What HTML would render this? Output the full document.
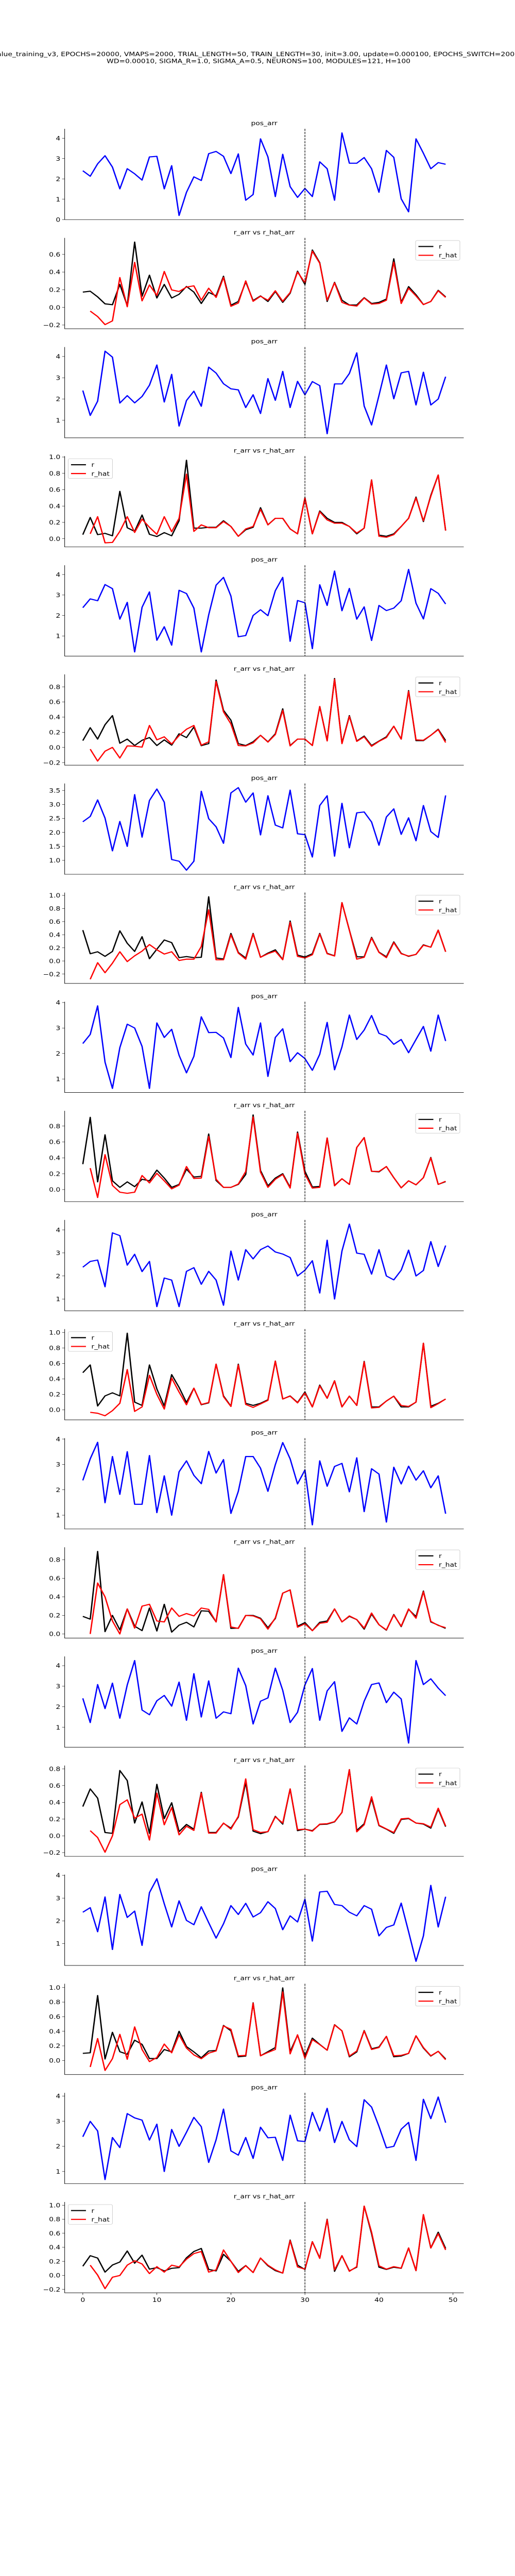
<!DOCTYPE html>
<html><head><meta charset="utf-8"><style>
html,body{margin:0;padding:0;background:#fff;width:100%;height:100%;overflow:hidden;}
svg{display:block;position:absolute;left:0;top:0;width:100%;height:100%;font-family:"DejaVu Sans","Liberation Sans",sans-serif;}
</style></head>
<body>
<svg id="fig" viewBox="0 0 1000 6000" preserveAspectRatio="none" overflow="hidden" xmlns="http://www.w3.org/2000/svg">
<rect width="1000" height="6000" fill="#fff"/>
<text x="-6" y="131" font-size="13.9" textLength="1014" lengthAdjust="spacingAndGlyphs">alue_training_v3, EPOCHS=20000, VMAPS=2000, TRIAL_LENGTH=50, TRAIN_LENGTH=30, init=3.00, update=0.000100, EPOCHS_SWITCH=2000</text>
<text x="207" y="147" font-size="13.9" textLength="590" lengthAdjust="spacingAndGlyphs">WD=0.00010, SIGMA_R=1.0, SIGMA_A=0.5, NEURONS=100, MODULES=121, H=100</text>
<g id="plots"></g>
</svg>
<script>
const pos0=[2.4,2.13,2.74,3.14,2.58,1.51,2.5,2.25,1.94,3.08,3.11,1.51,2.65,0.2,1.34,2.1,1.92,3.24,3.35,3.11,2.26,3.23,0.95,1.23,3.97,3.08,1.13,3.21,1.62,1.09,1.53,1.13,2.84,2.5,0.95,4.26,2.77,2.77,3.05,2.5,1.34,3.4,3.06,1.02,0.38,3.97,3.26,2.5,2.8,2.72];
const r0=[0.173,0.183,0.119,0.04,0.03,0.26,0.02,0.74,0.126,0.365,0.106,0.26,0.106,0.148,0.237,0.173,0.044,0.17,0.13,0.353,0.025,0.067,0.29,0.077,0.13,0.067,0.18,0.057,0.16,0.41,0.26,0.65,0.506,0.067,0.284,0.081,0.027,0.027,0.11,0.044,0.057,0.094,0.55,0.057,0.235,0.143,0.032,0.067,0.193,0.119];
const rh0=[null,-0.042,-0.104,-0.195,-0.153,0.338,0.007,0.51,0.074,0.254,0.136,0.407,0.198,0.18,0.23,0.244,0.081,0.217,0.113,0.34,0.012,0.049,0.3,0.069,0.126,0.081,0.188,0.069,0.168,0.4,0.279,0.637,0.5,0.081,0.279,0.057,0.025,0.015,0.106,0.037,0.044,0.081,0.513,0.044,0.217,0.13,0.032,0.067,0.188,0.113];
const pos1=[2.4,1.23,1.9,4.25,3.97,1.81,2.16,1.82,2.12,2.65,3.6,1.86,3.16,0.73,1.93,2.37,1.66,3.5,3.22,2.72,2.48,2.43,1.6,2.2,1.32,2.96,1.94,3.3,1.6,2.83,2.2,2.82,2.63,0.37,2.71,2.71,3.2,4.17,1.67,0.78,2.17,3.6,2.01,3.23,3.3,1.72,3.26,1.72,2.0,3.05];
const r1=[0.05,0.26,0.05,0.066,0.036,0.58,0.135,0.09,0.29,0.054,0.027,0.075,0.036,0.22,0.96,0.13,0.13,0.14,0.14,0.22,0.15,0.03,0.11,0.14,0.38,0.17,0.25,0.25,0.12,0.06,0.5,0.06,0.34,0.25,0.2,0.2,0.15,0.06,0.13,0.72,0.045,0.03,0.06,0.15,0.25,0.51,0.21,0.53,0.78,0.1];
const rh1=[null,0.06,0.27,-0.05,-0.045,0.09,0.27,0.077,0.24,0.14,0.054,0.27,0.086,0.25,0.79,0.09,0.17,0.135,0.135,0.21,0.15,0.03,0.12,0.15,0.36,0.17,0.25,0.25,0.12,0.06,0.5,0.06,0.33,0.23,0.19,0.19,0.15,0.07,0.13,0.72,0.03,0.018,0.05,0.15,0.25,0.5,0.22,0.52,0.78,0.1];
const pos2=[2.38,2.81,2.72,3.51,3.31,1.82,2.64,0.22,2.4,3.15,0.79,1.45,0.55,3.23,3.07,2.36,0.22,2.03,3.48,3.86,2.95,0.96,1.02,2.0,2.28,1.99,3.21,3.86,0.74,2.73,2.62,0.38,3.5,2.49,4.17,2.23,3.32,1.82,2.42,0.78,2.49,2.24,2.36,2.72,4.25,2.6,1.83,3.31,3.08,2.56];
const r2=[0.09,0.26,0.11,0.3,0.42,0.055,0.11,0.025,0.094,0.13,0.025,0.1,0.03,0.18,0.13,0.27,0.023,0.05,0.89,0.49,0.36,0.05,0.025,0.074,0.16,0.074,0.18,0.51,0.025,0.11,0.11,0.025,0.54,0.09,0.91,0.055,0.42,0.084,0.15,0.025,0.084,0.14,0.28,0.11,0.75,0.09,0.09,0.16,0.24,0.09];
const rh2=[null,-0.023,-0.18,-0.05,0.0,-0.14,0.02,0.016,0.004,0.29,0.1,0.14,0.045,0.156,0.24,0.29,0.03,0.074,0.87,0.47,0.31,0.025,0.02,0.06,0.16,0.07,0.17,0.49,0.02,0.11,0.11,0.025,0.54,0.085,0.9,0.05,0.41,0.08,0.14,0.015,0.08,0.13,0.28,0.11,0.74,0.1,0.095,0.16,0.235,0.065];
const pos3=[2.38,2.57,3.16,2.51,1.34,2.39,1.5,3.35,1.83,3.14,3.55,3.08,1.03,0.97,0.65,0.97,3.47,2.49,2.2,1.61,3.41,3.6,3.08,3.41,1.91,3.31,2.26,2.16,3.51,1.95,1.92,1.12,2.96,3.31,1.15,3.04,1.45,2.7,2.73,2.37,1.54,2.55,2.84,1.93,2.52,1.7,2.96,2.03,1.82,3.32];
const r3=[0.47,0.11,0.14,0.07,0.145,0.46,0.27,0.145,0.37,0.034,0.18,0.32,0.28,0.05,0.067,0.05,0.056,0.98,0.045,0.03,0.42,0.13,0.045,0.42,0.056,0.12,0.17,0.022,0.61,0.09,0.06,0.11,0.42,0.116,0.078,0.89,0.47,0.063,0.063,0.36,0.134,0.063,0.29,0.116,0.07,0.1,0.246,0.21,0.47,0.14];
const rh3=[null,-0.28,-0.027,-0.18,-0.034,0.14,-0.01,0.078,0.15,0.25,0.17,0.105,0.14,0.007,0.027,0.027,0.22,0.78,0.018,0.018,0.4,0.12,0.027,0.41,0.056,0.11,0.15,0.018,0.59,0.07,0.045,0.094,0.41,0.11,0.075,0.89,0.47,0.027,0.056,0.35,0.13,0.05,0.28,0.11,0.075,0.1,0.24,0.21,0.47,0.14];
const pos4=[2.39,2.75,3.87,1.66,0.63,2.23,3.15,3.0,2.28,0.63,3.2,2.63,2.95,1.93,1.24,1.89,3.44,2.82,2.83,2.61,1.84,3.81,2.37,1.94,3.2,1.1,2.63,2.97,1.68,2.03,1.8,1.34,1.97,3.22,1.36,2.26,3.51,2.55,2.92,3.49,2.79,2.68,2.36,2.55,2.03,2.55,3.06,2.09,3.51,2.49];
const r4=[0.32,0.91,0.097,0.69,0.11,0.028,0.097,0.037,0.13,0.11,0.245,0.145,0.028,0.065,0.257,0.158,0.167,0.7,0.115,0.028,0.028,0.065,0.19,0.94,0.24,0.047,0.145,0.2,0.028,0.725,0.23,0.033,0.04,0.65,0.052,0.136,0.065,0.53,0.655,0.23,0.223,0.29,0.15,0.022,0.11,0.06,0.15,0.405,0.065,0.1];
const rh4=[null,0.27,-0.1,0.44,0.052,-0.033,-0.047,-0.033,0.177,0.084,0.205,0.11,0.009,0.056,0.29,0.14,0.145,0.67,0.13,0.028,0.028,0.07,0.227,0.915,0.22,0.028,0.13,0.19,0.019,0.71,0.195,0.019,0.028,0.65,0.047,0.136,0.065,0.53,0.655,0.23,0.228,0.29,0.15,0.022,0.11,0.06,0.15,0.4,0.065,0.105];
const pos5=[2.38,2.63,2.69,1.53,3.87,3.75,2.47,2.94,2.19,2.63,0.67,1.91,1.82,0.67,2.2,2.36,1.64,2.2,1.82,0.73,3.08,1.82,3.14,2.74,3.14,3.3,3.04,2.95,2.8,2.0,2.25,2.66,1.26,3.55,1.0,3.08,4.25,2.99,2.94,2.08,3.14,2.0,1.83,2.25,3.12,2.0,2.24,3.49,2.41,3.32];
const r5=[0.48,0.58,0.05,0.18,0.22,0.18,0.99,0.1,0.057,0.58,0.27,0.05,0.455,0.29,0.095,0.28,0.066,0.09,0.59,0.18,0.047,0.59,0.085,0.057,0.085,0.13,0.63,0.14,0.18,0.095,0.23,0.038,0.32,0.15,0.375,0.038,0.177,0.057,0.626,0.038,0.038,0.114,0.177,0.038,0.038,0.1,0.86,0.047,0.085,0.14];
const rh5=[null,-0.032,-0.044,-0.076,-0.01,0.085,0.52,-0.02,0.038,0.446,0.2,0.01,0.41,0.23,0.066,0.28,0.07,0.095,0.59,0.17,0.044,0.58,0.07,0.032,0.076,0.123,0.63,0.14,0.177,0.09,0.22,0.038,0.31,0.15,0.375,0.038,0.177,0.057,0.62,0.025,0.032,0.114,0.177,0.057,0.044,0.1,0.86,0.028,0.08,0.14];
const pos6=[2.37,3.22,3.87,1.49,3.31,1.82,3.5,1.43,1.43,3.35,1.1,2.55,1.0,2.71,3.14,2.57,2.24,3.51,2.66,3.19,1.07,1.94,3.31,3.31,2.85,1.94,2.99,3.86,3.22,2.23,2.78,0.62,3.14,2.14,2.92,3.04,1.92,3.26,1.14,2.83,2.62,0.73,2.89,2.23,2.93,2.38,2.75,2.08,2.55,1.06];
const r6=[0.19,0.16,0.89,0.025,0.2,0.044,0.27,0.084,0.036,0.28,0.032,0.32,0.02,0.095,0.126,0.076,0.25,0.245,0.13,0.64,0.06,0.063,0.2,0.2,0.17,0.068,0.167,0.44,0.475,0.084,0.123,0.036,0.126,0.14,0.27,0.13,0.19,0.155,0.052,0.215,0.1,0.041,0.21,0.079,0.265,0.187,0.463,0.13,0.095,0.06];
const rh6=[null,0.0,0.55,0.4,0.14,0.0,0.27,0.063,0.3,0.32,0.14,0.13,0.28,0.19,0.22,0.195,0.28,0.265,0.13,0.64,0.076,0.06,0.2,0.195,0.163,0.052,0.174,0.44,0.475,0.073,0.11,0.036,0.115,0.126,0.27,0.13,0.195,0.155,0.063,0.226,0.1,0.044,0.205,0.084,0.27,0.17,0.455,0.136,0.092,0.068];
const pos7=[2.41,1.23,3.08,1.91,3.15,1.44,3.06,4.25,1.84,1.61,2.29,2.55,2.03,3.2,1.34,3.61,1.5,3.26,1.44,1.75,1.66,3.88,3.03,1.16,2.27,2.43,3.88,2.8,1.23,1.73,3.06,3.86,1.34,2.77,3.22,0.8,1.46,1.16,2.27,3.08,3.16,2.2,2.71,2.38,0.23,4.25,3.08,3.36,2.91,2.54];
const r7=[0.35,0.56,0.45,0.04,0.03,0.78,0.66,0.153,0.405,0.03,0.615,0.206,0.395,0.05,0.136,0.08,0.52,0.04,0.04,0.15,0.092,0.224,0.64,0.056,0.026,0.05,0.233,0.14,0.56,0.062,0.08,0.062,0.136,0.14,0.167,0.28,0.79,0.065,0.145,0.444,0.122,0.08,0.03,0.196,0.206,0.153,0.14,0.092,0.32,0.11];
const rh7=[null,0.062,-0.02,-0.195,0.0,0.373,0.43,0.21,0.26,-0.05,0.51,0.132,0.338,0.012,0.115,0.065,0.51,0.033,0.033,0.153,0.08,0.233,0.68,0.074,0.04,0.05,0.227,0.153,0.56,0.074,0.08,0.056,0.14,0.145,0.17,0.28,0.79,0.048,0.132,0.467,0.127,0.083,0.04,0.203,0.21,0.153,0.145,0.104,0.33,0.118];
const pos8=[2.38,2.58,1.52,3.05,0.74,3.16,2.15,2.43,0.92,3.24,3.85,2.75,1.73,2.88,2.02,1.83,2.62,1.92,1.24,1.87,2.67,2.28,2.77,2.17,2.36,2.84,2.54,1.61,2.22,1.95,2.95,1.11,3.27,3.3,2.72,2.67,2.38,2.22,2.67,2.51,1.34,1.71,1.82,2.78,1.52,0.22,1.34,3.56,1.73,3.06];
const r8=[0.097,0.105,0.89,0.02,0.386,0.12,0.085,0.278,0.22,0.026,0.026,0.15,0.117,0.4,0.19,0.117,0.036,0.13,0.137,0.48,0.406,0.05,0.06,0.79,0.064,0.12,0.177,0.995,0.12,0.346,0.06,0.306,0.22,0.14,0.49,0.406,0.05,0.117,0.41,0.16,0.185,0.33,0.05,0.06,0.097,0.338,0.17,0.06,0.125,0.02];
const rh8=[null,-0.09,0.3,-0.137,0.024,0.358,0.016,0.46,0.15,-0.016,0.04,0.225,0.105,0.352,0.17,0.076,0.024,0.1,0.13,0.473,0.427,0.064,0.07,0.785,0.064,0.11,0.15,0.94,0.09,0.352,0.03,0.285,0.217,0.14,0.487,0.406,0.06,0.13,0.406,0.15,0.177,0.33,0.064,0.07,0.097,0.338,0.177,0.064,0.125,0.01];
const pos9=[2.38,2.99,2.61,0.68,2.35,1.95,3.3,3.13,3.04,2.25,2.88,1.0,2.67,2.0,2.56,3.15,2.78,1.36,2.26,3.48,1.82,1.65,2.35,1.52,2.76,2.34,2.36,1.44,3.24,2.22,2.19,3.35,2.61,3.51,2.15,2.99,2.26,1.99,3.85,3.56,2.79,1.94,2.0,2.68,2.95,1.44,3.87,3.1,3.96,2.94];
const r9=[0.13,0.28,0.246,0.046,0.147,0.19,0.347,0.173,0.288,0.088,0.11,0.063,0.1,0.11,0.25,0.34,0.383,0.084,0.063,0.3,0.2,0.057,0.14,0.04,0.246,0.137,0.067,0.032,0.503,0.145,0.084,0.48,0.246,0.8,0.057,0.28,0.063,0.116,0.987,0.594,0.116,0.084,0.116,0.1,0.39,0.067,0.86,0.39,0.615,0.383];
const rh9=[null,0.145,0.004,-0.19,-0.027,-0.002,0.145,0.208,0.162,0.025,0.124,0.046,0.145,0.12,0.23,0.31,0.34,0.046,0.078,0.362,0.2,0.04,0.137,0.04,0.246,0.145,0.078,0.032,0.495,0.12,0.088,0.48,0.242,0.794,0.078,0.28,0.057,0.124,0.987,0.615,0.137,0.088,0.124,0.103,0.39,0.067,0.867,0.39,0.594,0.362];
const legendSides=['right','left','right','right','right','left','right','right','right','left'];
const xTickValues=[0,10,20,30,40,50];
const trainSplit=30;
const posSeries=[pos0,pos1,pos2,pos3,pos4,pos5,pos6,pos7,pos8,pos9];
const rSeries=[r0,r1,r2,r3,r4,r5,r6,r7,r8,r9];
const rhSeries=[rh0,rh1,rh2,rh3,rh4,rh5,rh6,rh7,rh8,rh9];

const NS='http://www.w3.org/2000/svg';
const root=document.getElementById('plots');
const AX_L=125.6, AX_R=900.5, AX_H=211.5, TOP0=300, PITCH=254.15, FS=13.9;
function mk(tag,attrs,parent){const e=document.createElementNS(NS,tag);for(const k in attrs)e.setAttribute(k,attrs[k]);(parent||root).appendChild(e);return e;}
function niceTicks(lo,hi){
  const raw=(hi-lo)/7;const mag=Math.pow(10,Math.floor(Math.log10(raw)));
  let step=10*mag;for(const s of [1,2,2.5,5,10]){if(s*mag>=raw-1e-12){step=s*mag;break;}}
  const t=[];for(let v=Math.ceil(lo/step-1e-9)*step;v<=hi+1e-9;v+=step)t.push(Math.round(v/step)*step);
  let dec=Math.max(0,-Math.floor(Math.log10(step)+1e-9));if(Math.abs(step/Math.pow(10,-dec)-2.5)<1e-6)dec++;
  return {t,dec};
}
function fmt(v,dec){let s=Math.abs(v).toFixed(dec);if(v<-1e-9)s='\u2212'+s;return s;}
const N=50, xmin=-0.05*(N-1), xmax=(N-1)*1.05;
function xs(i){return AX_L+(i-xmin)/(xmax-xmin)*(AX_R-AX_L);}

function drawAxes(idx,top,title,series,legendSide,isLast){
  const g=mk('g',{});
  
  
  let all=[];series.forEach(s=>s.data.forEach(v=>{if(v!==null)all.push(v);}));
  const dmin=Math.min(...all),dmax=Math.max(...all),pad=0.05*(dmax-dmin);
  const ylo=dmin-pad,yhi=dmax+pad;
  const ys=v=>top+(yhi-v)/(yhi-ylo)*AX_H;
  const bot=top+AX_H;
  const tt=mk('text',{x:(AX_L+AX_R)/2,y:top-8.3,'font-size':FS,'text-anchor':'middle'},g);
  tt.textContent=title;
  
  
  const {t,dec}=niceTicks(ylo,yhi);
  t.forEach(v=>{
    const y=ys(v);
    const tk=mk('line',{x1:AX_L-4.9,x2:AX_L,y1:y,y2:y,stroke:'#000','stroke-width':0.8},g);
    
    
    const lb=mk('text',{x:AX_L-8.4,y:y+5,'font-size':FS,'text-anchor':'end'},g);
    lb.textContent=fmt(v,dec);
    
    
  });
  series.forEach(s=>{
    let d='';let pen=false;
    s.data.forEach((v,i)=>{if(v===null){pen=false;return;}d+=(pen?'L':'M')+xs(i).toFixed(2)+' '+ys(v).toFixed(2);pen=true;});
    const p=mk('path',{d:d,fill:'none',stroke:s.color,'stroke-width':2.6,'stroke-linejoin':'round'},g);
    
    
  });
  const vl=mk('line',{x1:xs(trainSplit),x2:xs(trainSplit),y1:top,y2:bot,stroke:'#000','stroke-width':1.2,'stroke-dasharray':'5,2.2'},g);
  
  
  const sl=mk('line',{x1:AX_L,x2:AX_L,y1:top,y2:bot+0.4,stroke:'#000','stroke-width':1},g);
  
  
  const sb=mk('line',{x1:AX_L-0.4,x2:AX_R,y1:bot,y2:bot,stroke:'#000','stroke-width':1},g);
  
  
  if(isLast){
    xTickValues.forEach(v=>{
      const x=xs(v);
      const tk=mk('line',{x1:x,x2:x,y1:bot,y2:bot+4.9,stroke:'#000','stroke-width':0.8},g);
      
      
      const lb=mk('text',{x:x,y:bot+21,'font-size':FS,'text-anchor':'middle'},g);
      lb.textContent=String(v);
      
      
    });
  }
  if(legendSide){
    const w=86,h=46,lx=legendSide==='right'?AX_R-7.5-w:AX_L+6.8,ly=top+6;
    const lg=mk('g',{},g);
    
    
    const box=mk('rect',{x:lx,y:ly,width:w,height:h,rx:3,fill:'#fff','fill-opacity':0.8,stroke:'#ccc','stroke-width':1},lg);
    
    
    series.forEach((s,k)=>{
      const yy=ly+14+k*20.5;
      const ln=mk('line',{x1:lx+5.5,x2:lx+34.5,y1:yy,y2:yy,stroke:s.color,'stroke-width':2.6},lg);
      
      
      const tx=mk('text',{x:lx+45,y:yy+5,'font-size':FS},lg);
      tx.textContent=s.label;
      
      
    });
  }
}
for(let k=0;k<10;k++){
  const topP=TOP0+PITCH*(2*k), topR=TOP0+PITCH*(2*k+1);
  drawAxes(k,topP,'pos_arr',[{data:posSeries[k],color:'#0000ff',name:'pos-line',label:'pos'}],null,false);
  drawAxes(k,topR,'r_arr vs r_hat_arr',[{data:rSeries[k],color:'#000000',name:'r-line',label:'r'},{data:rhSeries[k],color:'#ff0000',name:'r-hat-line',label:'r_hat'}],legendSides[k],k===9);
}
</script>
</body></html>
